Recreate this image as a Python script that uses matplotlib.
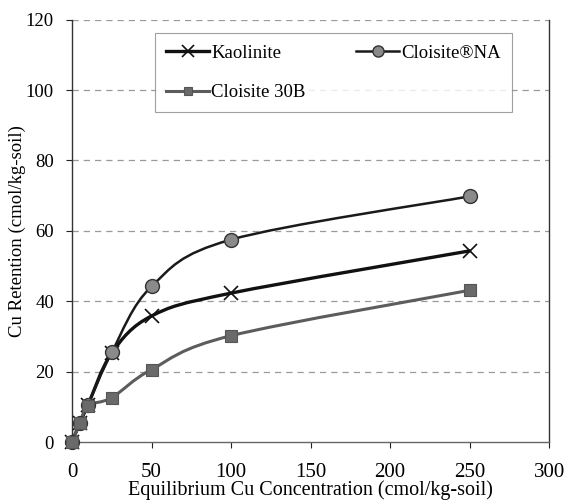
import matplotlib
matplotlib.use("Agg")
import matplotlib.pyplot as plt
import numpy as np
from matplotlib.path import Path
from matplotlib.patches import PathPatch
from matplotlib.lines import Line2D

plt.rcParams["font.family"] = ["Liberation Serif", "DejaVu Serif"]

# equilibrium concentration (cmol/kg-soil)
conc = [0, 5, 10, 25, 50, 100, 250]
kaolinite = [0, 5.5, 10.5, 25.3, 35.8, 42.3, 54.3]
cloisite_na = [0, 5.5, 10.5, 25.5, 44.2, 57.5, 69.8]
cloisite_30b = [0, 5.3, 10.3, 12.6, 20.6, 30.2, 43.1]
xticks = [0, 50, 100, 150, 200, 250, 300]
yticks = [0, 20, 40, 60, 80, 100, 120]

XMAX, YMAX = 300, 120


def smooth_path(x, y):
    # Excel-like smoothed line: cubic Bezier through the points,
    # built in axis-fraction units so shape does not depend on units
    pts = np.column_stack([np.asarray(x, float) / XMAX, np.asarray(y, float) / YMAX])
    n = len(pts)
    verts = [pts[0]]
    codes = [Path.MOVETO]
    for i in range(n - 1):
        p0 = pts[max(i - 1, 0)]
        p1, p2 = pts[i], pts[i + 1]
        p3 = pts[min(i + 2, n - 1)]
        verts += [p1 + (p2 - p0) / 6, p2 - (p3 - p1) / 6, p2]
        codes += [Path.CURVE4] * 3
    verts = np.array(verts) * [XMAX, YMAX]
    return Path(verts, codes)


series = [
    ("Kaolinite", kaolinite, dict(color="#111111", lw=2.4),
     dict(marker="x", ms=10, mew=1.2, mec="#111111", mfc="none")),
    ("Cloisite®NA", cloisite_na, dict(color="#1a1a1a", lw=1.8),
     dict(marker="o", ms=10, mew=1.0, mec="#333333", mfc="#8a8a8a")),
    ("Cloisite 30B", cloisite_30b, dict(color="#5c5c5c", lw=2.2),
     dict(marker="s", ms=8, mew=0.8, mec="#555555", mfc="#6a6a6a")),
]

fig = plt.figure(figsize=(5.66, 5.04), dpi=100)
ax = fig.add_axes([0.1272, 0.123, 0.843, 0.838])

handles = {}
for name, vals, lstyle, mstyle in series:
    ax.add_patch(PathPatch(smooth_path(conc, vals), fill=False, zorder=3,
                           capstyle="round", **lstyle))
    ax.plot(conc, vals, linestyle="none", zorder=4, clip_on=False, **mstyle)
    leg_m = dict(mstyle, ms=mstyle["ms"] * 0.8)
    handles[name] = Line2D([], [], color=lstyle["color"], lw=lstyle["lw"], **leg_m)

ax.set_xlim(0, XMAX)
ax.set_ylim(0, YMAX)
ax.set_xticks(xticks)
ax.set_yticks(yticks)
ax.tick_params(direction="out", length=4, width=0.8, colors="#222222", labelcolor="black")
ax.tick_params(axis="x", labelsize=15, pad=11)
ax.tick_params(axis="y", labelsize=13.5, pad=9)
for y in yticks[1:]:
    ax.axhline(y, color="#9a9a9a", lw=0.9, ls=(0, (5, 4)), zorder=1)
for side in ["left", "bottom", "right"]:
    ax.spines[side].set_color("#333333")
    ax.spines[side].set_linewidth(1.0)
ax.spines["top"].set_visible(False)
ax.spines["bottom"].set_color("#666666")

ax.set_xlabel("Equilibrium Cu Concentration (cmol/kg-soil)", fontsize=14.5, labelpad=-1)
ax.set_ylabel("Cu Retention (cmol/kg-soil)", fontsize=13.5, labelpad=0)

# column-major fill: Kaolinite / 30B in column 1, NA in column 2
order = ["Kaolinite", "Cloisite 30B", "Cloisite®NA"]
leg = ax.legend([handles[k] for k in order], order, ncol=2, loc="upper left",
                bbox_to_anchor=(0.174, 0.968), borderaxespad=0, fontsize=13.5,
                frameon=True, fancybox=False, edgecolor="#888888",
                handlelength=2.3, handletextpad=0.1, columnspacing=2.7,
                borderpad=0.6, labelspacing=1.2)
leg.get_frame().set_linewidth(0.8)

fig.savefig("out.png", dpi=100)
